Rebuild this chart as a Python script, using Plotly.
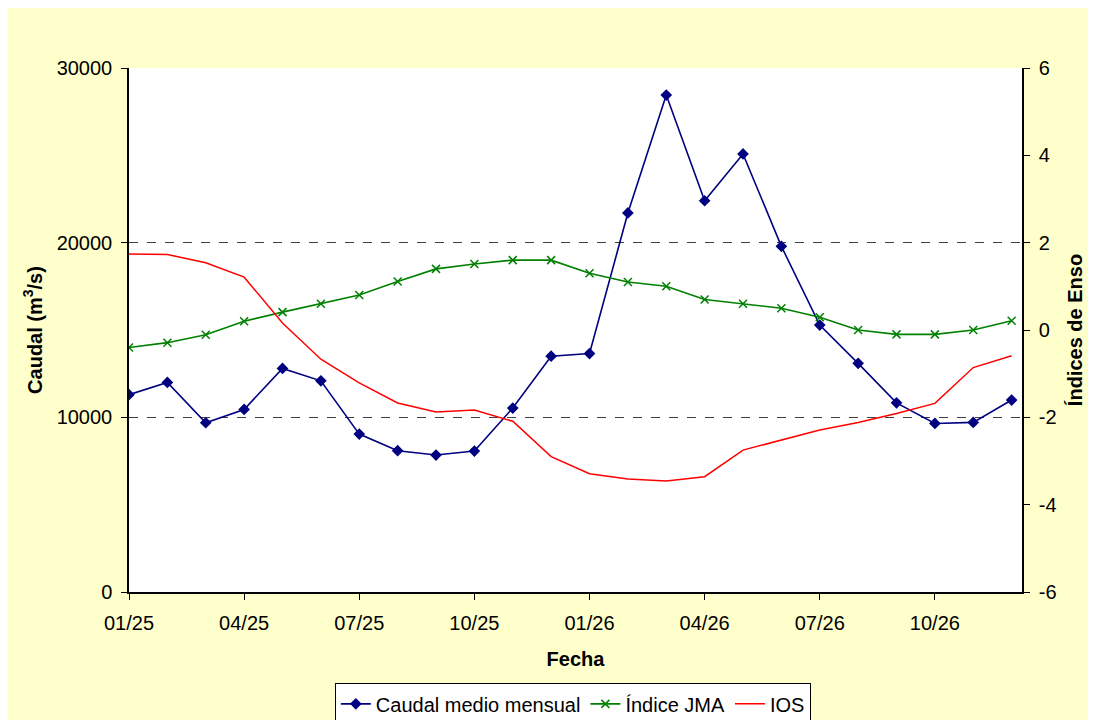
import plotly.graph_objects as go

# Monthly data, Jan 2025 - Dec 2026
meses = ["01/25", "02/25", "03/25", "04/25", "05/25", "06/25", "07/25", "08/25",
         "09/25", "10/25", "11/25", "12/25", "01/26", "02/26", "03/26", "04/26",
         "05/26", "06/26", "07/26", "08/26", "09/26", "10/26", "11/26", "12/26"]

caudal = [11300, 12000, 9690, 10450, 12800, 12090, 9040, 8090,
          7840, 8070, 10530, 13500, 13650, 21700, 28450, 22400,
          25080, 19790, 15280, 13090, 10830, 9650, 9710, 10990]

jma = [-0.40, -0.29, -0.11, 0.20, 0.41, 0.60, 0.80, 1.11,
       1.40, 1.51, 1.60, 1.60, 1.30, 1.10, 1.00, 0.70,
       0.60, 0.50, 0.29, 0.00, -0.10, -0.10, 0.00, 0.21]

ios = [1.74, 1.73, 1.54, 1.21, 0.16, -0.67, -1.21, -1.67,
       -1.88, -1.83, -2.09, -2.90, -3.29, -3.41, -3.46, -3.36,
       -2.75, -2.52, -2.29, -2.12, -1.91, -1.68, -0.86, -0.59]

# right axis ticks (plain hyphen like the original)
enso_ticks = [-6, -4, -2, 0, 2, 4, 6]
enso_labels = ["-6", "-4", "-2", "0", "2", "4", "6"]

FONT = "Liberation Sans, Arial, sans-serif"

fig = go.Figure()

fig.add_trace(go.Scatter(
    x=meses, y=caudal, name="Caudal medio mensual", mode="lines+markers",
    line=dict(color="#000080", width=1.6),
    marker=dict(symbol="diamond", size=9, color="#000080"),
))
fig.add_trace(go.Scatter(
    x=meses, y=jma, name="Índice JMA", mode="lines+markers", yaxis="y2",
    line=dict(color="#008000", width=1.6),
    marker=dict(symbol="x-thin", size=8, line=dict(color="#008000", width=1.5)),
))
fig.add_trace(go.Scatter(
    x=meses, y=ios, name="IOS", mode="lines", yaxis="y2",
    line=dict(color="#FF0000", width=1.5),
))

fig.update_layout(
    width=1096, height=720,
    margin=dict(l=121, r=82, t=60, b=136),
    paper_bgcolor="#FFFFCC",
    plot_bgcolor="white",
    font=dict(family=FONT, size=20, color="black"),
    showlegend=True,
    legend=dict(
        orientation="h", x=0.497, xanchor="center",
        yref="container", y=0.062, yanchor="top",
        bgcolor="white", bordercolor="black", borderwidth=1,
        font=dict(size=20), itemwidth=30, tracegroupgap=0,
    ),
    xaxis=dict(
        type="category", range=[0, 23.27], automargin=False,
        tickvals=meses[::3], ticktext=meses[::3],
        ticks="outside", ticklen=6, tickcolor="black", ticklabelstandoff=6,
        showline=True, linecolor="black", linewidth=1.5,
        showgrid=False, zeroline=False,
        title=dict(text="<b>Fecha</b>", standoff=19, font=dict(size=20)),
    ),
    yaxis=dict(
        range=[0, 30000], dtick=10000, tickformat="d", automargin=False,
        ticks="outside", ticklen=6, tickcolor="black", ticklabelstandoff=5,
        showline=True, linecolor="black", linewidth=1.5,
        showgrid=True, gridcolor="#404040", griddash="dash", gridwidth=1,
        zeroline=False,
        title=dict(text="<b>Caudal (m<sup>3</sup>/s)</b>", standoff=9,
                   font=dict(size=20)),
    ),
    yaxis2=dict(
        overlaying="y", side="right", range=[-6, 6], automargin=False,
        tickvals=enso_ticks, ticktext=enso_labels,
        ticks="outside", ticklen=6, tickcolor="black", ticklabelstandoff=5,
        showline=True, linecolor="black", linewidth=1.5,
        showgrid=False, zeroline=False,
        title=dict(text="<b>Índices de Enso</b>", standoff=12,
                   font=dict(size=20)),
    ),
)

fig.write_html("out.html")
